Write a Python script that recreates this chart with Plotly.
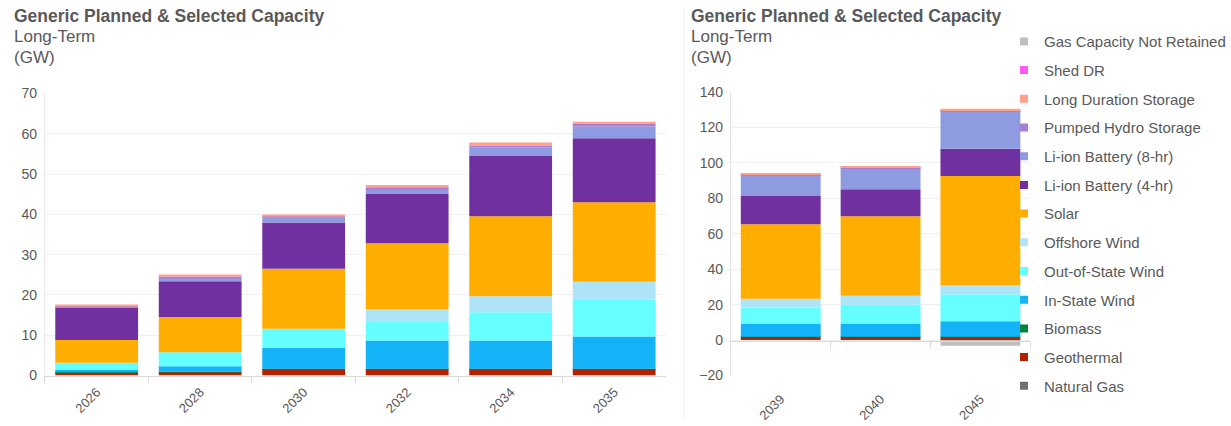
import plotly.graph_objects as go

# ---------------- data ----------------
years_left = ["2026", "2028", "2030", "2032", "2034", "2035"]
years_right = ["2039", "2040", "2045"]

series_names = [
    "Natural Gas", "Geothermal", "Biomass", "In-State Wind", "Out-of-State Wind",
    "Offshore Wind", "Solar", "Li-ion Battery (4-hr)", "Li-ion Battery (8-hr)",
    "Pumped Hydro Storage", "Long Duration Storage", "Shed DR", "Gas Capacity Not Retained",
]

natural_gas_left = [0, 0, 0, 0, 0, 0]
geothermal_left = [0.7, 0.9, 1.6, 1.6, 1.6, 1.6]
biomass_left = [0.1, 0.1, 0.1, 0.1, 0.1, 0.1]
instate_wind_left = [0.6, 1.3, 5.2, 7.0, 7.0, 8.0]
oos_wind_left = [1.8, 3.5, 4.7, 4.8, 7.0, 9.1]
offshore_wind_left = [0, 0, 0, 2.9, 4.0, 4.5]
solar_left = [5.6, 8.7, 14.9, 16.4, 19.8, 19.7]
li4_left = [8.1, 8.9, 11.5, 12.4, 15.0, 15.9]
li8_left = [0.2, 0.8, 1.3, 1.1, 2.1, 2.9]
pumped_left = [0.1, 0.4, 0.3, 0.4, 0.5, 0.6]
lds_left = [0.2, 0.5, 0.3, 0.6, 0.7, 0.6]
shed_dr_left = [0, 0, 0, 0, 0, 0]
gas_not_retained_left = [0, 0, 0, 0, 0, 0]

natural_gas_right = [0, 0, 0]
geothermal_right = [1.8, 1.8, 1.8]
biomass_right = [0.1, 0.1, 0.1]
instate_wind_right = [7.5, 7.5, 8.8]
oos_wind_right = [9.0, 10.7, 15.2]
offshore_wind_right = [4.9, 4.9, 4.9]
solar_right = [42.1, 44.9, 61.8]
li4_right = [15.9, 15.3, 15.4]
li8_right = [11.7, 11.9, 21.0]
pumped_right = [0.4, 0.5, 0.6]
lds_right = [0.5, 0.6, 0.9]
shed_dr_right = [0, 0, 0]
gas_not_retained_right = [0, 0, -3.2]

left_values = [natural_gas_left, geothermal_left, biomass_left, instate_wind_left, oos_wind_left,
               offshore_wind_left, solar_left, li4_left, li8_left, pumped_left, lds_left,
               shed_dr_left, gas_not_retained_left]
right_values = [natural_gas_right, geothermal_right, biomass_right, instate_wind_right, oos_wind_right,
                offshore_wind_right, solar_right, li4_right, li8_right, pumped_right, lds_right,
                shed_dr_right, gas_not_retained_right]

colors = ["#707070", "#B22200", "#00843D", "#14B2F7", "#66FFFF", "#AEE3F8", "#FFAD00",
          "#7030A0", "#8E9BE0", "#A97BD6", "#FFA08A", "#FF5BF5", "#BFBFBF"]

TXT = "#595959"
FONT = "Liberation Sans, Arial, sans-serif"
W, H = 1231, 426

fig = go.Figure()

for name, vals, col in zip(series_names, left_values, colors):
    fig.add_trace(go.Bar(x=years_left, y=vals, name=name, marker=dict(color=col, line=dict(width=0)),
                         xaxis="x", yaxis="y", showlegend=False))
for name, vals, col in zip(series_names, right_values, colors):
    fig.add_trace(go.Bar(x=years_right, y=vals, name=name, marker=dict(color=col, line=dict(width=0)),
                         xaxis="x2", yaxis="y2", showlegend=False))
# legend entries (small square swatches), top entry first
for name, col in reversed(list(zip(series_names, colors))):
    fig.add_trace(go.Scatter(x=[None], y=[None], mode="markers", name=name, legendgroup=name,
                             marker=dict(symbol="square", size=8, color=col),
                             xaxis="x2", yaxis="y2", showlegend=True))

def px_x(p):
    return p / W

def px_y(p):
    return 1 - p / H

grid = "#EFEFEF"
axl = "#D9D9D9"

fig.update_layout(
    width=W, height=H,
    margin=dict(l=0, r=0, t=0, b=0),
    paper_bgcolor="white", plot_bgcolor="white",
    barmode="relative", bargap=0.2,
    font=dict(family=FONT, color=TXT, size=14),
    xaxis=dict(domain=[px_x(45), px_x(667)], anchor="y", type="category",
               showline=True, linecolor=axl, ticks="outside", tickson="boundaries",
               ticklen=6, tickcolor=axl, tickangle=-45, showgrid=False,
               ticklabelstandoff=3, tickfont=dict(size=13, color=TXT)),
    yaxis=dict(domain=[px_y(381.9), px_y(88.8)], anchor="x", range=[0, 70], dtick=10,
               showline=True, linecolor="#EBEBEB", gridcolor=grid, zeroline=False,
               ticks="", tickfont=dict(size=14, color=TXT), ticklabelstandoff=4),
    xaxis2=dict(domain=[px_x(732), px_x(1032)], anchor="free", position=px_y(345.5), type="category",
                showline=True, linecolor=axl, ticks="outside", tickson="boundaries",
                ticklen=6, tickcolor=axl, tickangle=-45, showgrid=False,
                ticklabelstandoff=45, tickfont=dict(size=13, color=TXT)),
    yaxis2=dict(domain=[px_y(381.9), px_y(87.3)], anchor="x2", range=[-20, 140], dtick=20,
                showline=True, linecolor="#E3E3E3", gridcolor=grid, zeroline=False,
                ticks="", tickfont=dict(size=14, color=TXT), ticklabelstandoff=4),
    legend=dict(x=px_x(1006), xanchor="left", y=px_y(17.8), yanchor="top",
                bgcolor="rgba(0,0,0,0)", traceorder="grouped",
                tracegroupgap=6.2, font=dict(size=15, color=TXT), itemclick=False),
)

# faint panel separator
fig.add_shape(type="line", xref="paper", yref="paper", x0=px_x(685), x1=px_x(685), y0=0, y1=1,
              line=dict(color="#F0F0F0", width=1))

for x0 in (12, 690):
    fig.add_annotation(x=px_x(x0), y=px_y(7.8), xref="paper", yref="paper", xanchor="left", yanchor="middle",
                       text="<b>Generic Planned & Selected Capacity</b>", showarrow=False,
                       font=dict(size=17.5, color=TXT, family=FONT))
    fig.add_annotation(x=px_x(x0), y=px_y(30.0), xref="paper", yref="paper", xanchor="left", yanchor="middle",
                       text="Long-Term", showarrow=False, font=dict(size=17, color=TXT, family=FONT))
    fig.add_annotation(x=px_x(x0), y=px_y(51.4), xref="paper", yref="paper", xanchor="left", yanchor="middle",
                       text="(GW)", showarrow=False, font=dict(size=17, color=TXT, family=FONT))

fig.write_html("out.html")
